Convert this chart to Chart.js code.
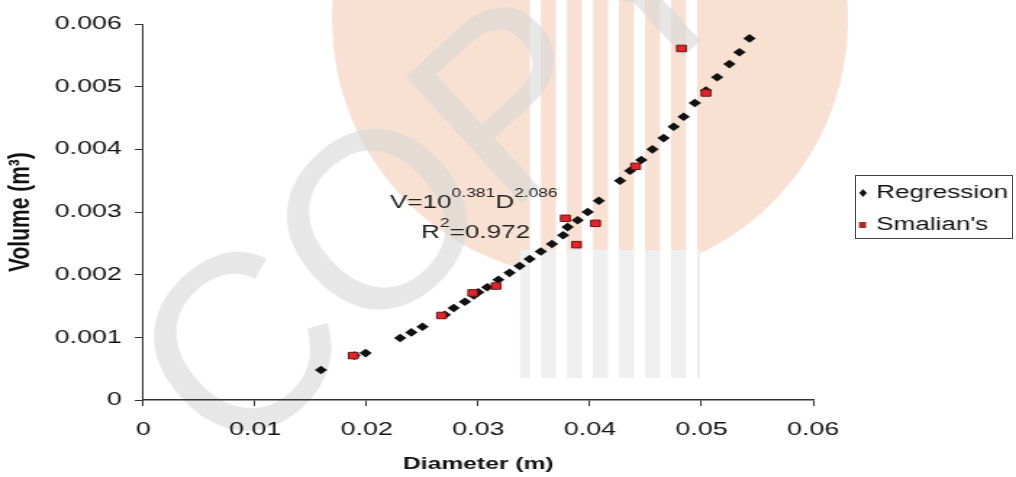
<!DOCTYPE html>
<html>
<head>
<meta charset="utf-8">
<script src="https://cdn.jsdelivr.net/npm/chart.js@4.4.1/dist/chart.umd.min.js"></script>
<style>
  html, body { margin:0; padding:0; background:#fff; overflow:hidden; }
  /* the source picture is stretched sideways, so draw narrow and stretch */
  #wrap { width:701px; height:477px; position:relative; transform:scaleX(1.4494); transform-origin:0 0; }
  #legendBox { position:absolute; left:855px; top:175px; width:156px; height:62px; border:1.5px solid #444; pointer-events:none; }
</style>
</head>
<body>
<div id="wrap"><canvas id="chart"></canvas></div>
<div id="legendBox"></div>
<script>
// data
const regD = [0.0159,0.0189,0.0199,0.0230,0.0240,0.0250,0.0270,0.0278,0.0288,0.0296,0.0300,0.0308,0.0318,0.0328,0.0337,0.0346,0.0356,0.0366,0.0376,0.0380,0.0389,0.0398,0.0408,0.0427,0.0436,0.0446,0.0456,0.0466,0.0475,0.0484,0.0494,0.0504,0.0514,0.0525,0.0534,0.0543];
const regV = [0.00048,0.00071,0.00075,0.00099,0.00108,0.00117,0.00136,0.00147,0.00157,0.00167,0.00172,0.00180,0.00192,0.00203,0.00214,0.00225,0.00237,0.00249,0.00263,0.00276,0.00287,0.00300,0.00318,0.00350,0.00366,0.00383,0.00400,0.00418,0.00436,0.00452,0.00474,0.00494,0.00515,0.00536,0.00555,0.00577];
const smaD = [0.0188,0.0267,0.0295,0.0316,0.0378,0.0388,0.0405,0.0441,0.0482,0.0504];
const smaV = [0.00071,0.00135,0.00171,0.00182,0.00290,0.00248,0.00282,0.00373,0.00561,0.00490];
const xTicks = ['0','0.01','0.02','0.03','0.04','0.05','0.06'];
const yTicks = ['0','0.001','0.002','0.003','0.004','0.005','0.006'];
const seriesNames = ['Regression', "Smalian's"];

const S = 1016 / 701; // horizontal stretch
const pts = (xs, ys) => xs.map((x, i) => ({x: x, y: ys[i]}));
const FONT = "'Liberation Sans', Arial, sans-serif";

// faint watermark behind the plot (drawn in page pixels)
const watermark = {
  id: 'watermark',
  beforeDraw(chart) {
    const c = chart.ctx;
    c.save();
    c.scale(1 / S, 1);
    c.fillStyle = '#f8e0d3';
    c.beginPath();
    c.arc(590, 20, 258, 0, Math.PI * 2);
    c.fill();
    c.fillStyle = '#efefef';
    c.fillRect(520, 250, 180, 128);
    c.fillStyle = '#ffffff';
    [530, 556, 582, 608, 634, 660, 686].forEach(x => c.fillRect(x, 0, 11, 380));
    c.translate(230, 470);
    c.rotate(-0.74);
    c.fillStyle = 'rgba(215,215,215,0.6)';
    c.font = "250px " + FONT;
    c.fillText('COPYRIGHT', 0, 0);
    c.restore();
  }
};

// equation text and legend entries
const extras = {
  id: 'extras',
  afterDraw(chart) {
    const c = chart.ctx;
    c.save();
    c.fillStyle = '#222';
    c.textBaseline = 'alphabetic';
    let x = 390 / S, y = 208;
    const seg = (t, big) => {
      c.font = (big ? '18px ' : '12px ') + FONT;
      c.fillText(t, x, big ? y : y - 11);
      x += c.measureText(t).width;
    };
    seg('V=10', true); seg('0.381', false); seg('D', true); seg('2.086', false);
    x = 421 / S; y = 238;
    seg('R', true); seg('2', false); seg('=0.972', true);

    c.font = '18px ' + FONT;
    c.fillStyle = '#111';
    c.textBaseline = 'middle';
    c.fillText(seriesNames[0], 876 / S, 193);
    c.fillText(seriesNames[1], 876 / S, 225);
    const dx = 863 / S;
    c.beginPath();
    c.moveTo(dx, 189); c.lineTo(dx + 2.6, 193); c.lineTo(dx, 197); c.lineTo(dx - 2.6, 193);
    c.closePath();
    c.fill();
    c.fillStyle = '#a82a2a';
    c.fillRect(859 / S, 222, 7 / S, 6);
    c.restore();
  }
};

new Chart(document.getElementById('chart'), {
  type: 'scatter',
  data: {
    datasets: [{
      label: seriesNames[1],
      data: pts(smaD, smaV),
      pointStyle: 'rect',
      pointRadius: 4.6,
      backgroundColor: '#e3242b',
      borderColor: '#6a1414',
      borderWidth: 1,
      order: 0
    }, {
      label: seriesNames[0],
      data: pts(regD, regV),
      pointStyle: 'rectRot',
      pointRadius: 4.3,
      backgroundColor: '#111',
      borderColor: '#111',
      borderWidth: 0,
      order: 1
    }]
  },
  options: {
    responsive: true,
    maintainAspectRatio: false,
    animation: false,
    layout: { padding: { top: 24, right: 140, left: 1.5, bottom: 2 } },
    plugins: { legend: { display: false }, tooltip: { enabled: false } },
    scales: {
      x: {
        type: 'linear', min: 0, max: 0.06,
        ticks: { stepSize: 0.01, color: '#111', font: { family: FONT, size: 18.5, lineHeight: 1 }, padding: 15,
                 callback: (v, i) => xTicks[i] },
        grid: { drawOnChartArea: false, drawTicks: true, tickLength: 6, color: '#333' },
        border: { display: true, color: '#333', width: 1.5 },
        title: { display: true, text: 'Diameter (m)', color: '#111', font: { family: FONT, size: 17, weight: 'bold' }, padding: { top: 0, bottom: 0 } }
      },
      y: {
        type: 'linear', min: 0, max: 0.006,
        ticks: { stepSize: 0.001, color: '#111', font: { family: FONT, size: 18.5 }, padding: 9,
                 callback: (v, i) => yTicks[i] },
        grid: { drawOnChartArea: false, drawTicks: true, tickLength: 6, color: '#333' },
        border: { display: true, color: '#333', width: 1 },
        title: { display: true, text: 'Volume (m³)', color: '#111', font: { family: FONT, size: 21, weight: 'bold' }, padding: { top: 0, bottom: 2 } }
      }
    }
  },
  plugins: [watermark, extras]
});
</script>
</body>
</html>
